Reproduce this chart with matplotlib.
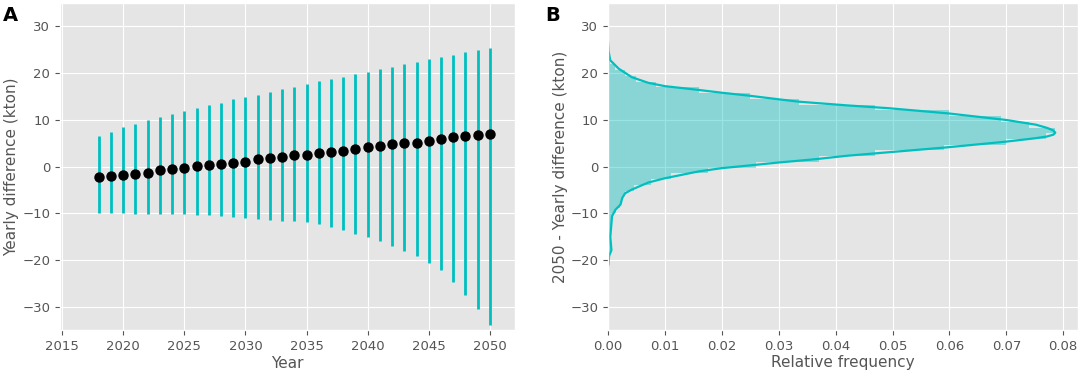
import matplotlib
matplotlib.use('Agg')
import matplotlib.pyplot as plt
import numpy as np

# Panel A: yearly difference, mean with spread (kton)
years = list(range(2018, 2051))
mean_diff = [-2.3, -2.1, -1.8, -1.5, -1.3, -0.85, -0.6, -0.3, 0.05, 0.3, 0.5,
             0.8, 1.0, 1.5, 1.8, 2.05, 2.35, 2.55, 2.85, 3.05, 3.35, 3.8, 4.1,
             4.4, 4.7, 4.9, 5.1, 5.4, 5.9, 6.2, 6.4, 6.65, 6.9]
upper_diff = [6.4, 7.4, 8.4, 9.1, 9.8, 10.6, 11.2, 11.8, 12.5, 13.0, 13.6,
              14.3, 14.8, 15.3, 15.9, 16.5, 17.0, 17.6, 18.2, 18.7, 19.1, 19.7,
              20.2, 20.8, 21.2, 21.8, 22.3, 22.8, 23.3, 23.8, 24.3, 24.8, 25.3]
lower_diff = [-9.8, -9.8, -10.0, -10.1, -10.1, -10.1, -10.1, -10.1, -10.3,
              -10.35, -10.6, -10.8, -10.9, -11.1, -11.4, -11.6, -11.7, -11.9,
              -12.2, -12.8, -13.5, -14.3, -15.0, -15.9, -16.9, -17.9, -19.1,
              -20.5, -22.1, -24.6, -27.4, -30.4, -33.8]

# Panel B: 2050 distribution (histogram bins + density curve)
bin_edges = [-34.4 + 1.22 * k for k in range(51)]
bin_freq = [0.00005, 0.00005, 0.0001, 0.0001, 0.0001, 0.0001, 0.0001, 0.0001,
            0.0001, 0.0002, 0.0002, 0.0003, 0.0004, 0.0006, 0.0004, 0.0004,
            0.0004, 0.0005, 0.0006, 0.0008, 0.0014, 0.0021, 0.0024, 0.0030,
            0.0045, 0.0075, 0.011, 0.0175, 0.026, 0.037, 0.047, 0.059, 0.070,
            0.077, 0.0785, 0.074, 0.069, 0.060, 0.047, 0.0335, 0.025, 0.016,
            0.0085, 0.005, 0.003, 0.0012, 0.0004, 0.0002, 0.0001, 0.00005]
kde_density = [0.0, 0.0001, 0.0004, 0.0019, 0.0042, 0.0071, 0.010, 0.0159,
               0.020, 0.0246, 0.030, 0.0335, 0.0421, 0.0494, 0.0598, 0.070,
               0.0752, 0.0772, 0.0782, 0.0786, 0.0783, 0.0772, 0.0750, 0.070,
               0.0598, 0.0421, 0.0364, 0.030,
               0.0246, 0.020, 0.0159, 0.010, 0.0071, 0.0042, 0.003, 0.0025,
               0.0022, 0.0013, 0.0007, 0.0006, 0.0004, 0.0006, 0.0002, 0.0]
kde_value = [26.5, 24.5, 22.6, 20.8, 19.0, 17.8, 17.1, 16.3, 15.7, 15.1, 14.3,
             13.8, 13.0, 12.4, 11.3, 9.9,
             8.9, 8.2, 7.7, 7.2, 6.8, 6.4, 6.0, 5.3,
             4.1, 2.3, 1.55,
             0.85, 0.2, -0.35, -1.05, -2.5, -3.4, -4.9, -5.7, -6.7, -8.1, -9.2,
             -10.6, -12.1, -15.0, -17.8, -19.0, -21.3]

plt.style.use('ggplot')
plt.rcParams['axes.labelsize'] = 11
plt.rcParams['xtick.labelsize'] = 9.5
plt.rcParams['ytick.labelsize'] = 9.5
fig = plt.figure(figsize=(10.84, 3.75), dpi=100)
ax1 = fig.add_axes([0.0554, 0.12, 0.4197, 0.872])
ax2 = fig.add_axes([0.5609, 0.12, 0.4336, 0.872])

cyan = '#00BFBF'

m = np.array(mean_diff)
yerr = [m - np.array(lower_diff), np.array(upper_diff) - m]
ax1.errorbar(years, mean_diff, yerr=yerr, fmt='o', color='black',
             ecolor=cyan, elinewidth=2, markersize=6.5, capsize=0)
ax1.set_xlim(2014.84, 2052.05)
ax1.set_ylim(-34.8, 34.8)
ax1.set_xlabel('Year', labelpad=2)
ax1.set_ylabel('Yearly difference (kton)', labelpad=2)

edges = np.array(bin_edges)
ax2.barh(edges[:-1], bin_freq, height=np.diff(edges), align='edge',
         color=cyan, alpha=0.4, linewidth=0)
ax2.plot(kde_density, kde_value, color=cyan, lw=1.6)
ax2.set_xlim(0, 0.0826)
ax2.set_ylim(-34.8, 34.8)
ax2.set_xlabel('Relative frequency', labelpad=2)
ax2.set_ylabel('2050 - Yearly difference (kton)', labelpad=2)

fig.text(0.003, 0.985, 'A', fontsize=14, fontweight='bold', va='top')
fig.text(0.503, 0.985, 'B', fontsize=14, fontweight='bold', va='top')

fig.savefig('out.png', dpi=100)
